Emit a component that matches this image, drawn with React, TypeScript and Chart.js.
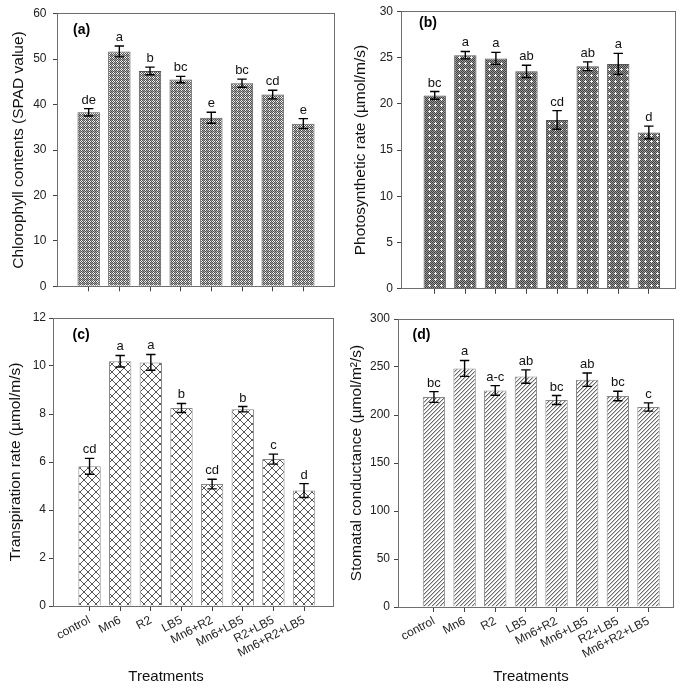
import React, { useEffect, useRef } from 'react';
import { Chart, registerables } from 'chart.js';

Chart.register(...registerables);

const FONT = "'Liberation Sans', Arial, Helvetica, sans-serif";

// ---- data ----
const categories = ['control', 'Mn6', 'R2', 'LB5', 'Mn6+R2', 'Mn6+LB5', 'R2+LB5', 'Mn6+R2+LB5'];

const chlorophyll = [38.3, 51.7, 47.4, 45.5, 37.1, 44.7, 42.2, 35.8];
const chlorophyllErr = [0.8, 1.2, 0.85, 0.7, 1.2, 0.9, 0.95, 1.1];
const chlorophyllLetters = ['de', 'a', 'b', 'bc', 'e', 'bc', 'cd', 'e'];
const chlorophyllAxis = [0, 60, 10];

const photosynthesis = [20.9, 25.25, 24.9, 23.5, 18.25, 24.05, 24.3, 16.9];
const photosynthesisErr = [0.42, 0.4, 0.65, 0.66, 1.0, 0.47, 1.14, 0.68];
const photosynthesisLetters = ['bc', 'a', 'a', 'ab', 'cd', 'ab', 'a', 'd'];
const photosynthesisAxis = [0, 30, 5];

const transpiration = [5.82, 10.2, 10.15, 8.25, 5.08, 8.2, 6.12, 4.81];
const transpirationErr = [0.33, 0.24, 0.33, 0.19, 0.2, 0.11, 0.21, 0.29];
const transpirationLetters = ['cd', 'a', 'a', 'b', 'cd', 'b', 'c', 'd'];
const transpirationAxis = [0, 12, 2];

const conductance = [218.7, 248.5, 225.6, 240, 215.6, 236.8, 219.8, 208.3];
const conductanceErr = [5.6, 8.3, 5, 7, 4.7, 7, 5, 4.3];
const conductanceLetters = ['bc', 'a', 'a-c', 'ab', 'bc', 'ab', 'bc', 'c'];
const conductanceAxis = [0, 300, 50];

const xAxisTitle = 'Treatments';

// ---- panel layout ----
type PanelDef = {
  key: string;
  label: string;
  yTitle: string;
  values: number[];
  errors: number[];
  letters: string[];
  axis: number[];
  xRange: number[];
  pattern: string;
  border: string;
  showX: boolean;
  frame: { left: number; top: number; width: number; height: number };
  yWidth: number;
  padRight: number;
  padTop: number;
  xHeight: number;
  tickPad: number;
  titlePad: number;
  labelAt: number[];
  xTitleAt?: number[];
};

const panels: PanelDef[] = [
  {
    key: 'a', label: '(a)', yTitle: 'Chlorophyll contents (SPAD value)',
    values: chlorophyll, errors: chlorophyllErr, letters: chlorophyllLetters, axis: chlorophyllAxis,
    xRange: [0, 9],
    pattern: 'checker', border: '#555', showX: false,
    frame: { left: 0, top: 0, width: 342, height: 300 },
    yWidth: 58, padRight: 8, padTop: 7, xHeight: 4, tickPad: 6.5, titlePad: 9, labelAt: [15, 16],
  },
  {
    key: 'b', label: '(b)', yTitle: 'Photosynthetic rate (µmol/m/s)',
    values: photosynthesis, errors: photosynthesisErr, letters: photosynthesisLetters, axis: photosynthesisAxis,
    xRange: [-0.07, 8.855],
    pattern: 'dots', border: '#555', showX: false,
    frame: { left: 342, top: 0, width: 343, height: 300 },
    yWidth: 60, padRight: 10, padTop: 8, xHeight: 5, tickPad: 4, titlePad: 9, labelAt: [17, 12],
  },
  {
    key: 'c', label: '(c)', yTitle: 'Transpiration rate (µmol/m/s)',
    values: transpiration, errors: transpirationErr, letters: transpirationLetters, axis: transpirationAxis,
    xRange: [-0.16, 8.945],
    pattern: 'cross', border: '#888', showX: true,
    frame: { left: 0, top: 300, width: 342, height: 388 },
    yWidth: 54, padRight: 9, padTop: 18, xHeight: 82, tickPad: 3, titlePad: 6.5, labelAt: [18.5, 17],
    xTitleAt: [112, 71],
  },
  {
    key: 'd', label: '(d)', yTitle: 'Stomatal conductance (µmol/m²/s)',
    values: conductance, errors: conductanceErr, letters: conductanceLetters, axis: conductanceAxis,
    xRange: [-0.14, 8.8],
    pattern: 'diag', border: '#888', showX: true,
    frame: { left: 342, top: 300, width: 343, height: 388 },
    yWidth: 57, padRight: 12, padTop: 19, xHeight: 81, tickPad: 4, titlePad: 5.5, labelAt: [13.5, 16],
    xTitleAt: [132, 70],
  },
];

// ---- fill patterns ----
function makePattern(kind: string): CanvasPattern | string {
  const c = document.createElement('canvas');
  let size = 4;
  let colorAt: (x: number, y: number) => string = () => '#888';
  if (kind === 'checker') {
    size = 4;
    const rows = ['DWDG', 'WDWD', 'DWDG', 'GDGD'];
    const map: Record<string, string> = { D: '#505050', G: '#a4a4a4', W: '#f4f4f4' };
    colorAt = (x, y) => map[rows[y][x]];
  } else if (kind === 'dots') {
    size = 6;
    colorAt = (x, y) => {
      const plus = (x === 3 && y >= 2 && y <= 4) || (y === 3 && x >= 2 && x <= 4);
      if (plus) return '#f4f4f4';
      return (x + y) % 2 === 0 ? '#404040' : '#9a9a9a';
    };
  } else if (kind === 'cross') {
    size = 8;
    colorAt = (x, y) => (x === y || x + y === 7 ? '#555' : '#ffffff');
  } else if (kind === 'diag') {
    size = 4;
    colorAt = (x, y) => {
      const m = (x + y) % 4;
      if (m === 3) return '#6a6a6a';
      if (m === 0) return '#c4c4c4';
      return '#ffffff';
    };
  }
  c.width = size;
  c.height = size;
  const ctx = c.getContext('2d');
  if (!ctx) return '#888';
  for (let y = 0; y < size; y++) {
    for (let x = 0; x < size; x++) {
      ctx.fillStyle = colorAt(x, y);
      ctx.fillRect(x, y, 1, 1);
    }
  }
  return ctx.createPattern(c, 'repeat') || '#888';
}

const CAP = 4.7;

function decorPlugin(def: PanelDef) {
  return {
    id: 'decor_' + def.key,
    afterDatasetsDraw(chart: any) {
      const ctx: CanvasRenderingContext2D = chart.ctx;
      const yScale = chart.scales.y;
      const meta = chart.getDatasetMeta(0);
      const a = chart.chartArea;
      ctx.save();
      // frame box
      ctx.strokeStyle = '#6e6e6e';
      ctx.lineWidth = 1;
      const l = Math.floor(a.left) - 0.5;
      const t = Math.floor(a.top) + 0.5;
      const r = Math.floor(a.right) + 0.5;
      const b = Math.floor(a.bottom) + 0.5;
      ctx.strokeRect(l, t, r - l, b - t);
      // error bars + letters
      meta.data.forEach((bar: any, i: number) => {
        const v = def.values[i];
        const e = def.errors[i];
        const yt = yScale.getPixelForValue(v + e);
        const yb = yScale.getPixelForValue(v - e);
        const x = bar.x;
        ctx.strokeStyle = '#000';
        ctx.lineWidth = 1.4;
        ctx.beginPath();
        ctx.moveTo(x, yt);
        ctx.lineTo(x, yb);
        ctx.moveTo(x - CAP, yt);
        ctx.lineTo(x + CAP, yt);
        ctx.moveTo(x - CAP, yb);
        ctx.lineTo(x + CAP, yb);
        ctx.stroke();
        ctx.font = `13px ${FONT}`;
        ctx.fillStyle = '#111';
        ctx.textAlign = 'center';
        ctx.textBaseline = 'alphabetic';
        ctx.fillText(def.letters[i], x, yt - 5);
      });
      // panel label
      ctx.font = `bold 14px ${FONT}`;
      ctx.fillStyle = '#000';
      ctx.textAlign = 'left';
      ctx.textBaseline = 'middle';
      ctx.fillText(def.label, a.left + def.labelAt[0], a.top + def.labelAt[1]);
      // x axis title
      if (def.xTitleAt) {
        ctx.font = `15px ${FONT}`;
        ctx.fillStyle = '#111';
        ctx.textAlign = 'center';
        ctx.textBaseline = 'middle';
        ctx.fillText(xAxisTitle, a.left + def.xTitleAt[0], a.bottom + def.xTitleAt[1]);
      }
      ctx.restore();
    },
  };
}

function Panel({ def }: { def: PanelDef }) {
  const ref = useRef<HTMLCanvasElement>(null);
  useEffect(() => {
    if (!ref.current) return;
    const pattern = makePattern(def.pattern);
    const chart = new Chart(ref.current, {
      type: 'bar',
      data: {
        datasets: [
          {
            data: def.values.map((v, i) => ({ x: i + 1, y: v })),
            backgroundColor: pattern as any,
            borderColor: def.border,
            borderWidth: 1,
            barPercentage: 0.73,
            categoryPercentage: 1,
          },
        ],
      },
      options: {
        animation: false,
        responsive: false,
        devicePixelRatio: 1,
        layout: {
          autoPadding: false,
          padding: { left: 0, right: def.padRight, top: def.padTop, bottom: 0 },
        },
        plugins: { legend: { display: false }, tooltip: { enabled: false } },
        scales: {
          x: {
            type: 'linear',
            offset: false,
            min: def.xRange[0],
            max: def.xRange[1],
            afterBuildTicks: (s: any) => {
              s.ticks = categories.map((_, i) => ({ value: i + 1 }));
            },
            afterFit: (s: any) => {
              s.height = def.xHeight;
            },
            ticks: {
              display: def.showX,
              autoSkip: false,
              minRotation: 28,
              maxRotation: 28,
              padding: 2,
              color: '#222',
              font: { family: FONT, size: 12 },
              callback: (v: any) => categories[Number(v) - 1] ?? '',
            },
            grid: { offset: false, drawOnChartArea: false, drawTicks: true, tickLength: 5, tickColor: '#444' },
            border: { display: false },
          },
          y: {
            type: 'linear',
            min: def.axis[0],
            max: def.axis[1],
            afterFit: (s: any) => {
              s.width = def.yWidth;
            },
            ticks: {
              stepSize: def.axis[2],
              padding: def.tickPad,
              color: '#222',
              font: { family: FONT, size: 12 },
            },
            grid: { drawOnChartArea: false, drawTicks: true, tickLength: 5, tickColor: '#444' },
            border: { display: false },
            title: {
              display: true,
              text: def.yTitle,
              color: '#111',
              font: { family: FONT, size: 15.5 },
              padding: { top: def.titlePad, bottom: 0 },
            },
          },
        },
      } as any,
      plugins: [decorPlugin(def)],
    });
    return () => chart.destroy();
  }, [def]);
  const f = def.frame;
  return (
    <canvas
      ref={ref}
      width={f.width}
      height={f.height}
      style={{ position: 'absolute', left: f.left, top: f.top, width: f.width, height: f.height }}
    />
  );
}

export default function App() {
  return (
    <div
      style={{
        position: 'absolute',
        left: 0,
        top: 0,
        width: 685,
        height: 688,
        background: '#fff',
        overflow: 'hidden',
      }}
    >
      {panels.map((p) => (
        <Panel key={p.key} def={p} />
      ))}
    </div>
  );
}
